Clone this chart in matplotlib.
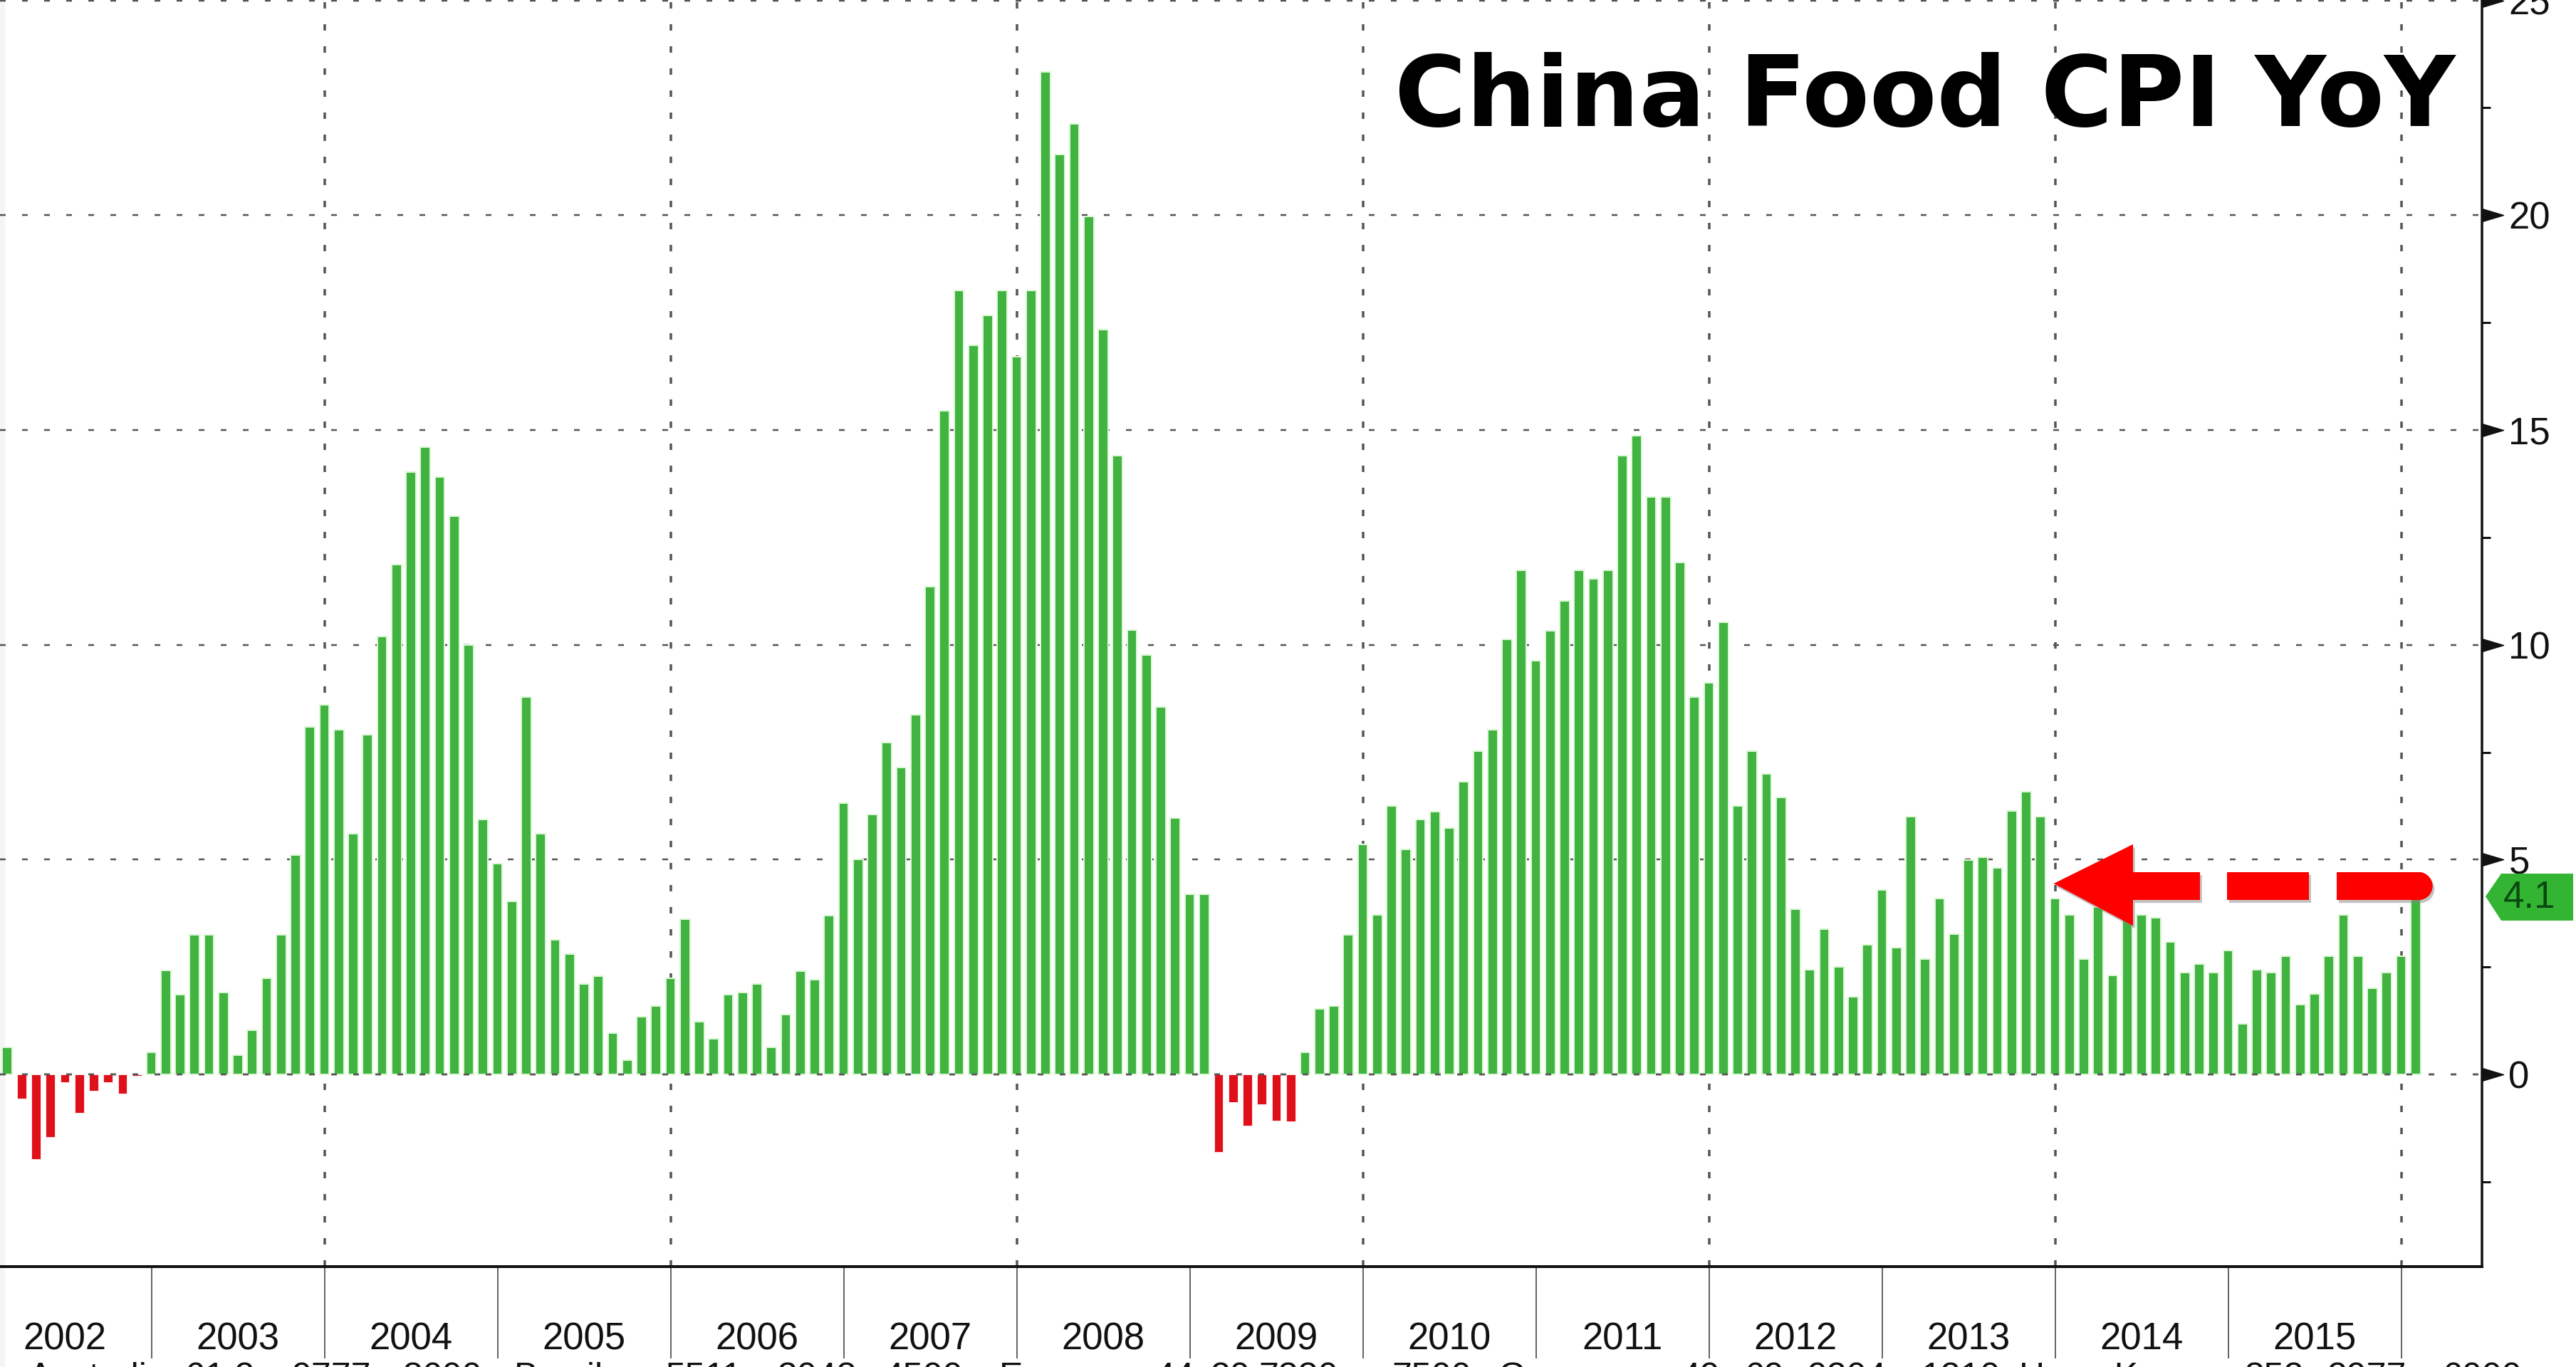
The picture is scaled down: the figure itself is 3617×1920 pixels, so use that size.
import numpy as np
import matplotlib
matplotlib.use("Agg")
import matplotlib.pyplot as plt
import matplotlib.patheffects as pe
from matplotlib.patches import Polygon, Rectangle
from matplotlib.transforms import Affine2D

# China food CPI YoY, monthly, first bar is ten months before the 2003 tick
food_cpi = [
    0.63, -0.57, -1.97, -1.46, -0.18, -0.89, -0.38, -0.18, -0.44, -0.03,
    0.51, 2.42, 1.85, 3.25, 3.25, 1.91, 0.45, 1.03, 2.24, 3.25, 5.1, 8.09,
    8.61, 8.03, 5.61, 7.9, 10.2, 11.86, 14.02, 14.6, 13.9, 13.0, 10.0, 5.93,
    4.91, 4.02, 8.79, 5.61, 3.13, 2.8, 2.1, 2.28, 0.96, 0.33, 1.34, 1.6,
    2.24, 3.62, 1.22, 0.83, 1.85, 1.91, 2.1, 0.63, 1.4, 2.4, 2.2, 3.7,
    6.32, 5.0, 6.05, 7.73, 7.15, 8.37, 11.36, 15.44, 18.25, 16.97, 17.67,
    18.25, 16.7, 18.25, 23.34, 21.42, 22.13, 19.97, 17.34, 14.41, 10.35,
    9.76, 8.55, 5.96, 4.2, 4.2, -1.8, -0.65, -1.2, -0.7, -1.07, -1.1,
    0.51, 1.53, 1.6, 3.25, 5.36, 3.71, 6.25, 5.23, 5.93, 6.12, 5.74, 6.82,
    7.52, 8.03, 10.13, 11.73, 9.63, 10.33, 11.03, 11.73, 11.54, 11.73, 14.4,
    14.86, 13.45, 13.45, 11.92, 8.79, 9.11, 10.52, 6.25, 7.52, 7.0, 6.44,
    3.84, 2.43, 3.39, 2.5, 1.8, 3.02, 4.29, 2.95, 6.0, 2.69, 4.1, 3.26,
    4.99, 5.05, 4.8, 6.14, 6.58, 6.0, 4.1, 3.71, 2.69, 3.9, 2.31, 3.66,
    3.71, 3.65, 3.08, 2.37, 2.57, 2.37, 2.89, 1.17, 2.44, 2.37, 2.76, 1.62,
    1.87, 2.76, 3.71, 2.76, 2.0, 2.37, 2.76, 4.1,
]
year_labels = ["2002", "2003", "2004", "2005", "2006", "2007", "2008",
               "2009", "2010", "2011", "2012", "2013", "2014", "2015"]
y_ticks = [0, 5, 10, 15, 20, 25]
footer_parts = [("Australia", 40), ("61 2", 260), ("9777", 410), ("8600", 566),
                ("Brazil", 722), ("5511", 935), ("3048", 1091), ("4500", 1241),
                ("Europe", 1403), ("44", 1622), ("20", 1700), ("7330", 1767),
                ("7500", 1954), ("Germany", 2104), ("49", 2360), ("69", 2449),
                ("9204", 2538), ("1210", 2697), ("Hong Kong", 2835),
                ("852", 3152), ("2977", 3267), ("6000", 3429)]

W, H = 3617, 1920
PT = 0.72  # points per pixel at dpi 100
NARROW = ["Liberation Sans Narrow", "Liberation Sans", "DejaVu Sans"]

plt.rcParams["font.family"] = NARROW
plt.rcParams["lines.scale_dashes"] = False

fig = plt.figure(figsize=(W / 100, H / 100), dpi=100, facecolor="white")
ax = fig.add_axes([0, (H - 1779) / H, 3485 / W, 1779 / H])
ax.patch.set_alpha(0)

# pixel coordinates of the picture, y going down, for the annotations
px = Affine2D().scale(1 / W, -1 / H).translate(0, 1) + fig.transFigure

# faint grey strip along the left edge
fig.add_artist(Rectangle((0, 0), 6, H, transform=px, color="#f5f5f5", zorder=-5))

# Bars, the pale edge is the halo around them in the reference
months = np.arange(len(food_cpi))
values = np.array(food_cpi)
ax.bar(months[values >= 0], values[values >= 0], width=0.68, color="#41b341",
       edgecolor="#dcf8d6", linewidth=2 * PT, zorder=2)
ax.bar(months[values < 0], values[values < 0], width=0.62, color="#e0101a",
       edgecolor="#fbe6e6", linewidth=1 * PT, zorder=2)

ax.set_xlim(-10 / 20.25, 3475 / 20.25)
ax.set_ylim(-270 / 60.35, 25.01)

# Year ticks: even years carry the vertical grid line
boundaries = 10 + 12 * np.arange(len(year_labels))
ax.set_xticks(boundaries[1::2])
ax.set_xticks(boundaries[0::2], minor=True)
ax.tick_params(axis="x", which="both", length=129 * PT, width=2 * PT,
               color="#666666", labelbottom=False)
ax.set_axisbelow(True)
ax.grid(True, axis="x", which="major", color="#555555", linewidth=3.5 * PT,
        linestyle=(0, (9 * PT, 22 * PT)))
ax.grid(True, axis="y", which="major", color="#555555", linewidth=2.5 * PT,
        linestyle=(0, (8 * PT, 23 * PT)))
ax.axhline(0, color="#555555", linewidth=2.5 * PT,
           linestyle=(0, (8 * PT, 23 * PT)), zorder=3)

for i, label in enumerate(year_labels):
    ax.text(boundaries[i] - 6, (1779 - 1881) / 1779, label, fontsize=38,
            ha="center", va="center", color="#111111",
            transform=ax.get_xaxis_transform())

# Right axis with arrow ticks
ax.yaxis.tick_right()
ax.set_yticks(y_ticks)
ax.set_yticks([-2.5, 2.5, 7.5, 12.5, 17.5, 22.5], minor=True)
ax.tick_params(axis="y", which="major", length=0, pad=27, labelsize=38,
               labelcolor="#111111")
ax.tick_params(axis="y", which="minor", length=12 * PT, width=3 * PT,
               color="#111111")
ax.plot([1] * len(y_ticks), y_ticks, linestyle="none", color="#111111",
        marker=[(0, -0.3), (1, 0), (0, 0.3)], markersize=60 * PT,
        transform=ax.get_yaxis_transform(), clip_on=False, zorder=4)

for side in ["top", "left"]:
    ax.spines[side].set_visible(False)
ax.spines["bottom"].set_linewidth(4 * PT)
ax.spines["right"].set_linewidth(3.5 * PT)
ax.spines["bottom"].set_color("#111111")
ax.spines["right"].set_color("#111111")

# Title
fig.text(3447, 177, "China Food CPI YoY", transform=px, family="DejaVu Sans",
         fontweight="bold", fontsize=99, ha="right", va="baseline",
         color="black")

# Red dashed arrow pointing at the latest level
shadow = [pe.withSimplePatchShadow(offset=(2, -3), shadow_rgbFace="#888888",
                                   alpha=0.5), pe.Normal()]
head = [(2884, 1241), (2995, 1186), (2995, 1225), (3089, 1225), (3089, 1264),
        (2995, 1264), (2995, 1300)]
theta = np.linspace(-np.pi / 2, np.pi / 2, 20)
tail = [(3281, 1225)] + list(zip(3396 + 19.5 * np.cos(theta),
                                 1244.5 + 19.5 * np.sin(theta))) + [(3281, 1264)]
for pts in [head, [(3127, 1225), (3242, 1225), (3242, 1264), (3127, 1264)], tail]:
    fig.add_artist(Polygon(pts, closed=True, transform=px, facecolor="#fe0000",
                           edgecolor="none", path_effects=shadow, zorder=6))

# Last value tag
tag = [(3490, 1259), (3512, 1227), (3613, 1227), (3613, 1293), (3512, 1293)]
fig.add_artist(Polygon(tag, closed=True, transform=px, facecolor="#33b533",
                       edgecolor="none", zorder=6))
fig.text(3552, 1261, f"{food_cpi[-1]:.1f}", transform=px, fontsize=38,
         family="Liberation Sans", ha="center", va="center", color="#0a4a10",
         zorder=7)

# Footer line, cut off by the bottom edge of the picture
for text, x in footer_parts:
    fig.text(x, 1949, text, transform=px, fontsize=36, ha="left", va="baseline",
             color="#111111")

fig.savefig("out.png", dpi=100)
